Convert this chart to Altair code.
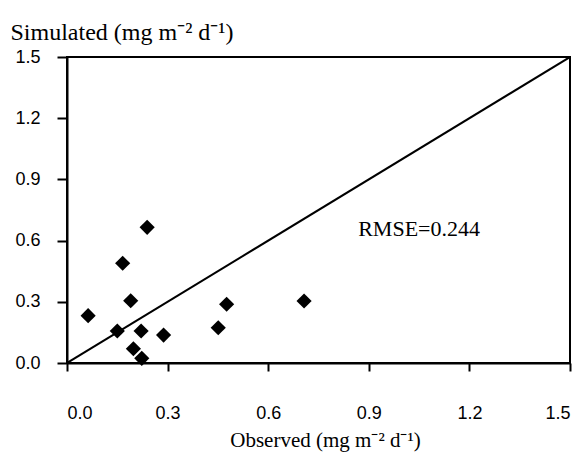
import altair as alt
import pandas as pd

observed = [0.063, 0.239, 0.166, 0.190, 0.150, 0.221, 0.288, 0.198, 0.223, 0.451, 0.476, 0.707]
simulated = [0.232, 0.665, 0.489, 0.305, 0.157, 0.157, 0.137, 0.070, 0.023, 0.173, 0.288, 0.304]
line_x = [0.0, 1.5]
line_y = [0.0, 1.5]
ticks = [0.0, 0.3, 0.6, 0.9, 1.2, 1.5]
rmse_label = "RMSE=0.244"

pts = pd.DataFrame({"obs": observed, "sim": simulated})
ln = pd.DataFrame({"obs": line_x, "sim": line_y})
lab = pd.DataFrame({"obs": [1.05], "sim": [0.655], "t": [rmse_label]})

xscale = alt.Scale(domain=[0, 1.5], nice=False, zero=False)
yscale = alt.Scale(domain=[0, 1.5], nice=False, zero=False)

xaxis = alt.Axis(
    values=ticks, format=".1f", title="Observed (mg m⁻² d⁻¹)",
    labelFont="Liberation Sans", labelFontSize=18, labelColor="black",
    labelPadding=33, tickSize=8, tickColor="black", tickWidth=2,
    domainColor="black", domainWidth=2, grid=False,
    titleFont="Liberation Serif", titleFontSize=21, titleFontWeight="normal",
    titleColor="black", titleX=258, titleY=83, titleAlign="center",
    titleBaseline="alphabetic",
)
yaxis = alt.Axis(
    values=ticks, format=".1f", title="Simulated (mg m⁻² d⁻¹)",
    labelFont="Liberation Sans", labelFontSize=18, labelColor="black",
    labelPadding=17, tickSize=10, tickColor="black", tickWidth=2,
    domainColor="black", domainWidth=2, grid=False,
    titleFont="Liberation Serif", titleFontSize=24, titleFontWeight="normal",
    titleColor="black", titleAngle=0, titleX=-57, titleY=-18, titleAlign="left",
    titleBaseline="alphabetic",
)

line = alt.Chart(ln).mark_line(color="black", strokeWidth=2, clip=True).encode(
    x=alt.X("obs:Q", scale=xscale, axis=xaxis),
    y=alt.Y("sim:Q", scale=yscale, axis=yaxis),
)
points = alt.Chart(pts).mark_point(shape="diamond", filled=True, color="black", size=230, opacity=1).encode(
    x=alt.X("obs:Q", scale=xscale),
    y=alt.Y("sim:Q", scale=yscale),
)
text = alt.Chart(lab).mark_text(font="Liberation Serif", fontSize=22, color="black", align="center", baseline="middle").encode(
    x=alt.X("obs:Q", scale=xscale),
    y=alt.Y("sim:Q", scale=yscale),
    text="t:N",
)

chart = alt.layer(line, points, text).properties(
    width=503, height=306,
    autosize=alt.AutoSizeParams(type="none"),
    padding={"left": 59, "top": 49, "right": 10, "bottom": 92},
    background="white",
).configure_view(stroke="black", strokeWidth=2)

chart.save("out.html", embed_options={"renderer": "svg", "actions": False})
